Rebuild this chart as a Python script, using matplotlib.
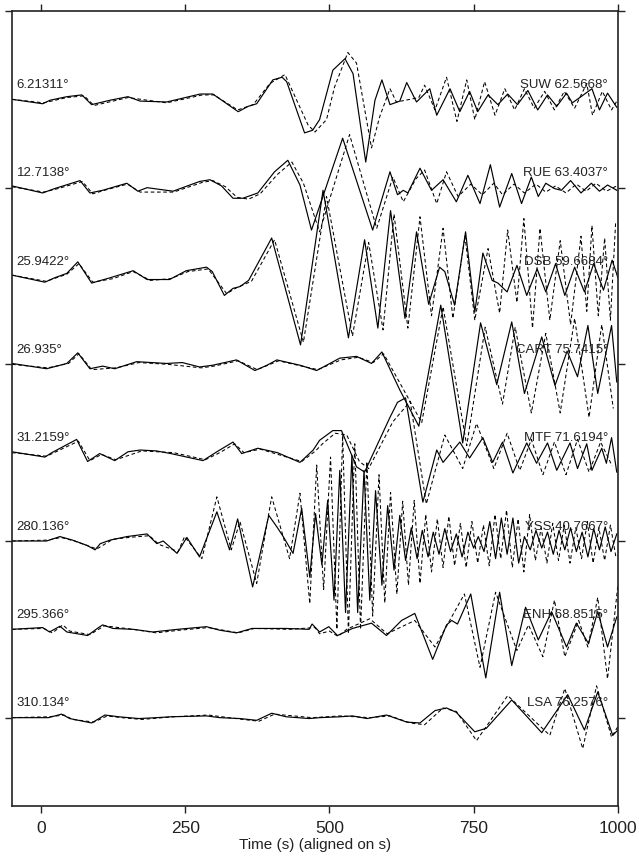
import numpy as np
import matplotlib
matplotlib.use('Agg')
import matplotlib.pyplot as plt

# Station labels (left: back-azimuth, right: station + distance)
LEFT_LABELS = ['6.21311°', '12.7138°', '25.9422°', '26.935°',
               '31.2159°', '280.136°', '295.366°', '310.134°']
RIGHT_LABELS = ['SUW 62.5668°', 'RUE 63.4037°', 'DSB 59.6684°', 'CART 75.7415°',
                'MTF 71.6194°', 'YSS 40.7667°', 'ENH 68.8515°', 'LSA 76.2576°']

# (time s, amplitude in trace spacings); obs = solid, syn = dashed
SUW_OBS = [(-50, 0.00), (3, -0.05), (16, -0.01), (45, 0.03), (71, 0.05), (88, -0.06), (120, -0.01),
           (151, 0.03), (172, -0.02), (218, -0.03), (276, 0.06), (298, 0.06), (342, -0.14), (359, -0.08),
           (374, -0.05), (402, 0.22), (418, 0.25), (426, 0.20), (457, -0.38), (471, -0.35), (483, -0.23),
           (506, 0.33), (527, 0.46), (541, 0.29), (563, -0.71), (579, -0.01), (591, 0.22), (605, -0.06),
           (622, -0.02), (634, 0.19), (651, -0.03), (674, 0.12), (686, -0.18), (709, 0.12), (726, -0.14),
           (743, 0.09), (757, -0.14), (775, 0.05), (792, -0.06), (809, 0.06), (826, -0.06), (844, 0.10),
           (861, -0.12), (878, 0.05), (894, -0.08), (911, 0.07), (921, -0.04), (936, 0.03), (955, 0.12),
           (968, -0.12), (982, 0.07), (998, -0.09)]
SUW_SYN = [(-50, 0.00), (5, -0.04), (45, 0.02), (75, 0.04), (92, -0.07), (125, -0.02), (151, 0.02),
           (218, -0.04), (280, 0.05), (300, 0.05), (341, -0.12), (368, -0.06), (397, 0.18), (423, 0.28),
           (463, -0.29), (475, -0.37), (495, -0.23), (509, 0.14), (532, 0.53), (547, 0.41), (573, -0.55),
           (587, -0.20), (605, 0.12), (616, -0.03), (640, 0.00), (655, 0.02), (665, 0.16), (683, -0.12),
           (703, 0.25), (721, -0.25), (738, 0.22), (752, -0.23), (769, 0.20), (787, -0.18), (804, 0.12),
           (821, -0.12), (838, 0.12), (855, -0.10), (873, 0.09), (890, -0.12), (907, 0.09), (925, -0.10),
           (946, 0.18), (956, -0.18), (973, 0.09), (989, -0.12), (1000, 0.00)]

RUE_OBS = [(-50, 0.02), (3, -0.06), (24, -0.01), (68, 0.08), (85, -0.06), (107, -0.03), (149, 0.05),
           (168, -0.04), (184, 0.00), (229, -0.04), (275, 0.07), (293, 0.09), (313, 0.02), (333, -0.12),
           (350, -0.12), (376, -0.06), (405, 0.18), (428, 0.31), (449, 0.03), (469, -0.48), (523, 0.56),
           (575, -0.48), (605, 0.18), (618, -0.08), (628, -0.03), (636, -0.06), (657, 0.22), (677, -0.03),
           (697, 0.09), (720, -0.16), (740, 0.14), (761, -0.18), (779, 0.26), (795, -0.22), (816, 0.16),
           (833, -0.18), (850, 0.12), (862, -0.10), (875, 0.05), (890, -0.01), (902, -0.03), (918, 0.08),
           (936, -0.06), (954, 0.05), (968, -0.04), (982, 0.03), (998, -0.03)]
RUE_SYN = [(-50, 0.01), (5, -0.05), (30, -0.01), (72, 0.07), (90, -0.07), (110, -0.03), (150, 0.04),
           (172, -0.05), (230, -0.05), (280, 0.06), (298, 0.08), (320, 0.01), (340, -0.11), (360, -0.13),
           (380, -0.07), (410, 0.15), (435, 0.29), (455, 0.05), (483, -0.50), (535, 0.60), (582, -0.46),
           (610, 0.12), (628, -0.16), (650, 0.10), (665, 0.20), (686, -0.18), (703, 0.18), (723, -0.10),
           (745, 0.04), (765, -0.08), (785, 0.05), (800, -0.08), (820, 0.04), (838, -0.06), (858, 0.04),
           (875, -0.05), (892, 0.02), (910, -0.06), (928, 0.04), (945, -0.04), (962, 0.05), (980, -0.04),
           (998, 0.02)]

DSB_OBS = [(-50, 0.01), (7, -0.07), (24, -0.02), (45, 0.03), (64, 0.16), (88, -0.08), (120, -0.02),
           (160, 0.06), (184, -0.04), (223, -0.04), (252, 0.06), (287, 0.10), (297, 0.05), (318, -0.22),
           (333, -0.14), (345, -0.12), (360, -0.05), (400, 0.43), (450, -0.78), (489, 0.97), (533, -0.70),
           (561, 0.41), (584, -0.59), (606, 0.74), (631, -0.48), (651, 0.50), (672, -0.32), (691, 0.10),
           (700, 0.05), (717, -0.33), (736, 0.50), (752, -0.41), (766, 0.26), (782, -0.05), (792, -0.08),
           (808, -0.18), (825, 0.12), (842, -0.22), (860, 0.08), (875, -0.18), (892, 0.14), (908, -0.22),
           (925, 0.10), (942, -0.18), (958, 0.14), (975, -0.16), (990, 0.18), (1000, -0.02)]
DSB_SYN = [(-50, 0.01), (9, -0.06), (45, 0.02), (66, 0.14), (90, -0.07), (125, -0.03), (160, 0.05),
           (190, -0.05), (225, -0.03), (255, 0.05), (290, 0.08), (322, -0.20), (340, -0.13), (365, -0.06),
           (405, 0.41), (455, -0.75), (495, 0.90), (540, -0.68), (568, 0.38), (593, -0.61), (612, 0.70),
           (636, -0.59), (657, 0.67), (677, -0.45), (697, 0.54), (714, -0.48), (735, 0.45), (752, -0.50),
           (775, 0.31), (795, -0.42), (809, 0.52), (825, -0.30), (837, 0.65), (852, -0.59), (865, 0.54),
           (882, -0.50), (900, 0.40), (918, -0.55), (936, 0.45), (946, -0.40), (955, 0.57), (966, -0.45),
           (977, 0.43), (987, -0.50), (996, 0.60)]

CART_OBS = [(-50, 0.01), (10, -0.05), (45, 0.01), (64, 0.13), (85, -0.05), (107, -0.02), (128, -0.05),
            (166, 0.03), (218, 0.01), (245, 0.02), (275, -0.03), (298, -0.01), (339, 0.05), (371, -0.07),
            (392, -0.01), (409, 0.05), (449, -0.01), (478, -0.07), (518, 0.07), (547, 0.09), (573, 0.01),
            (591, 0.14), (622, -0.29), (655, -0.70), (693, 0.67), (731, -0.89), (762, 0.47), (790, -0.23),
            (816, 0.48), (838, -0.33), (868, 0.31), (891, -0.24), (912, 0.15), (930, -0.14), (948, 0.44),
            (965, -0.33), (989, 0.44), (998, -0.20)]
CART_SYN = [(-50, 0.00), (12, -0.04), (48, 0.01), (66, 0.12), (88, -0.06), (130, -0.04), (170, 0.02),
            (220, 0.00), (278, -0.04), (300, -0.02), (342, 0.04), (375, -0.06), (412, 0.04), (452, -0.02),
            (480, -0.06), (520, 0.05), (550, 0.08), (576, 0.02), (594, 0.12), (628, -0.28), (660, -0.66),
            (697, 0.65), (738, -0.92), (770, 0.42), (800, -0.45), (822, 0.42), (850, -0.55), (875, 0.35),
            (900, -0.55), (925, 0.52), (950, -0.60), (972, 0.45), (992, -0.50)]

MTF_OBS = [(-50, 0.01), (7, -0.05), (19, 0.00), (62, 0.15), (81, -0.10), (102, -0.01), (128, -0.09),
           (151, 0.01), (172, 0.03), (200, 0.02), (225, -0.01), (281, -0.09), (305, 0.01), (333, 0.12),
           (348, -0.01), (376, 0.05), (410, 0.00), (449, -0.11), (472, 0.03), (483, 0.14), (506, 0.25),
           (521, 0.25), (547, -0.16), (561, -0.22), (605, 0.40), (618, 0.57), (632, 0.62), (662, -0.56),
           (686, 0.03), (697, -0.11), (726, 0.12), (743, -0.06), (766, 0.17), (783, -0.11), (800, 0.12),
           (818, -0.23), (842, 0.11), (859, -0.12), (878, 0.11), (894, -0.20), (917, 0.11), (930, -0.18),
           (946, 0.10), (955, -0.20), (972, 0.05), (980, -0.12), (989, 0.17), (998, -0.22)]
MTF_SYN = [(-50, 0.00), (10, -0.04), (65, 0.13), (85, -0.09), (105, -0.02), (130, -0.08), (175, 0.02),
           (230, 0.00), (285, -0.08), (310, 0.00), (336, 0.10), (352, 0.00), (380, 0.04), (452, -0.10),
           (476, 0.02), (488, 0.10), (510, 0.22), (530, 0.20), (552, -0.10), (568, -0.18), (610, 0.35),
           (640, 0.58), (668, -0.58), (700, 0.20), (731, -0.18), (755, 0.33), (785, -0.18), (808, 0.22),
           (830, -0.20), (850, 0.15), (870, -0.25), (890, 0.12), (910, -0.25), (930, 0.15), (950, -0.22),
           (970, 0.12), (990, -0.15)]

YSS_OBS = [(-50, 0.00), (10, 0.00), (33, 0.05), (55, 0.01), (80, -0.05), (94, -0.10), (103, -0.03),
           (120, 0.01), (149, 0.05), (184, 0.08), (201, -0.03), (212, 0.00), (236, -0.14), (253, 0.04),
           (275, -0.18), (305, 0.33), (327, -0.10), (341, 0.25), (367, -0.52), (395, 0.29), (410, 0.15),
           (420, 0.05), (437, -0.14), (452, 0.37), (466, -0.41), (476, 0.31), (487, -0.27), (497, 0.46),
           (508, -0.67), (518, 0.80), (528, -0.81), (539, 0.97), (549, -0.81), (560, 0.80), (570, -0.67),
           (580, 0.57), (591, -0.50), (601, 0.40), (612, -0.33), (622, 0.29), (632, -0.22), (642, 0.15),
           (652, -0.20), (661, 0.12), (671, -0.18), (680, 0.10), (690, -0.15), (700, 0.14), (710, -0.12),
           (720, 0.08), (730, -0.18), (740, 0.10), (750, -0.08), (758, 0.05), (768, -0.12), (778, 0.22),
           (788, -0.20), (798, 0.26), (808, -0.15), (818, 0.26), (828, -0.25), (838, 0.05), (848, -0.10),
           (858, 0.12), (868, -0.08), (878, 0.10), (888, -0.15), (898, 0.12), (908, -0.10), (918, 0.15),
           (928, -0.12), (938, 0.10), (948, -0.18), (958, 0.14), (968, -0.10), (978, 0.16), (988, -0.12),
           (998, 0.08)]
YSS_SYN = [(-50, 0.00), (12, 0.01), (35, 0.04), (58, 0.00), (84, -0.06), (97, -0.09), (125, 0.02),
           (152, 0.04), (188, 0.06), (205, -0.04), (238, -0.12), (249, 0.05), (279, -0.20), (305, 0.50),
           (330, -0.10), (345, 0.22), (374, -0.48), (400, 0.50), (431, -0.20), (449, 0.54), (466, -0.71),
           (478, 0.86), (490, -0.55), (502, 0.95), (513, -1.00), (523, 1.20), (533, -1.05), (544, 1.10),
           (554, -1.00), (565, 0.90), (575, -0.85), (586, 0.75), (596, -0.70), (606, 0.55), (617, -0.60),
           (627, 0.45), (637, -0.50), (647, 0.46), (657, -0.48), (667, 0.30), (677, -0.35), (687, 0.25),
           (697, -0.30), (707, 0.28), (717, -0.28), (727, 0.20), (737, -0.30), (747, 0.22), (757, -0.25),
           (767, 0.18), (777, -0.28), (787, 0.30), (797, -0.20), (807, 0.35), (817, -0.30), (827, 0.25),
           (837, -0.35), (847, 0.30), (857, -0.22), (867, 0.15), (877, -0.25), (887, 0.20), (897, -0.22),
           (907, 0.18), (917, -0.25), (927, 0.15), (937, -0.20), (947, 0.22), (957, -0.25), (967, 0.15),
           (977, -0.22), (987, 0.18), (997, -0.20)]

ENH_OBS = [(-50, 0.00), (3, 0.02), (15, -0.03), (33, 0.035), (45, -0.03), (81, -0.07), (100, 0.02),
           (107, 0.05), (125, 0.01), (160, 0.00), (194, -0.03), (237, 0.00), (287, 0.03), (310, -0.01),
           (339, -0.04), (366, 0.01), (425, 0.01), (465, 0.00), (470, 0.06), (483, -0.03), (499, 0.03),
           (514, -0.07), (540, 0.01), (573, 0.07), (599, -0.07), (625, 0.10), (648, 0.18), (679, -0.34),
           (703, 0.05), (712, 0.10), (722, 0.06), (745, 0.40), (771, -0.55), (795, 0.42), (816, -0.41),
           (840, 0.25), (862, -0.12), (885, 0.20), (911, -0.20), (928, 0.07), (949, -0.16), (965, 0.20),
           (982, -0.20), (998, 0.14)]
ENH_SYN = [(-50, 0.00), (5, 0.01), (20, -0.04), (38, 0.05), (50, -0.02), (85, -0.06), (110, 0.04),
           (160, 0.00), (200, -0.04), (240, -0.01), (290, 0.02), (342, -0.04), (370, 0.01), (430, 0.00),
           (475, 0.02), (483, -0.05), (500, -0.02), (515, -0.08), (530, 0.00), (570, 0.12), (600, -0.05),
           (648, 0.10), (683, -0.20), (700, 0.00), (734, 0.40), (761, -0.43), (788, 0.42), (825, -0.24),
           (845, 0.05), (870, -0.31), (890, 0.33), (908, -0.31), (932, 0.10), (948, -0.20), (965, 0.36),
           (982, -0.56), (1000, 0.50)]

LSA_OBS = [(-50, 0.00), (13, 0.00), (36, 0.04), (50, -0.01), (88, -0.06), (111, 0.03), (135, 0.01),
           (170, -0.01), (200, 0.00), (225, 0.01), (287, 0.02), (310, 0.00), (345, -0.01), (374, -0.03),
           (400, 0.05), (425, 0.01), (465, -0.01), (483, 0.00), (518, 0.01), (540, 0.02), (565, -0.01),
           (599, 0.03), (634, -0.05), (657, -0.06), (683, 0.08), (703, 0.11), (720, 0.06), (752, -0.16),
           (772, -0.12), (816, 0.20), (868, -0.17), (913, 0.26), (942, -0.14), (965, 0.29), (991, -0.20),
           (1000, -0.14)]
LSA_SYN = [(-50, 0.00), (15, 0.01), (40, 0.03), (55, -0.02), (92, -0.05), (115, 0.02), (140, 0.00),
           (175, -0.02), (230, 0.01), (290, 0.03), (350, -0.02), (378, -0.04), (405, 0.04), (470, 0.00),
           (520, 0.02), (570, 0.00), (605, 0.02), (640, -0.06), (665, -0.08), (697, 0.11), (720, 0.07),
           (755, -0.26), (809, 0.25), (882, -0.20), (908, 0.33), (939, -0.35), (963, 0.36), (989, -0.22),
           (1000, -0.10)]

OBSERVED = [SUW_OBS, RUE_OBS, DSB_OBS, CART_OBS, MTF_OBS, YSS_OBS, ENH_OBS, LSA_OBS]
SYNTHETIC = [SUW_SYN, RUE_SYN, DSB_SYN, CART_SYN, MTF_SYN, YSS_SYN, ENH_SYN, LSA_SYN]

plt.rcParams['font.family'] = ['Liberation Sans', 'DejaVu Sans']
TEXT_COLOR = '#222222'

fig = plt.figure(figsize=(6.39, 8.59), dpi=100)
ax = fig.add_axes([0.0188, 0.0617, 0.9482, 0.9255])

for i, (obs, syn) in enumerate(zip(OBSERVED, SYNTHETIC), start=1):
    t, a = np.array(obs).T
    ax.plot(t, i - a, color='black', lw=0.85, solid_joinstyle='round')
    t, a = np.array(syn).T
    ax.plot(t, i - a, color='black', lw=0.75, linestyle=(0, (3.5, 2.5)))
    ax.text(-42, i - 0.13, LEFT_LABELS[i - 1], fontsize=9.5, color=TEXT_COLOR,
            ha='left', va='baseline')
    ax.text(983, i - 0.13, RIGHT_LABELS[i - 1], fontsize=9.5, color=TEXT_COLOR,
            ha='right', va='baseline')

ax.set_xlim(-50, 1000)
ax.set_ylim(9, 0)
ax.set_xticks([0, 250, 500, 750, 1000])
ax.set_yticks([0, 2, 4, 6, 8])
ax.tick_params(axis='both', direction='out', length=5, width=1, top=True, right=True,
               labelsize=12.5, colors=TEXT_COLOR, pad=6)
ax.tick_params(axis='y', labelleft=False, labelright=False)
ax.set_xlabel('Time (s) (aligned on s)', fontsize=11, color=TEXT_COLOR, labelpad=1)
for s in ax.spines.values():
    s.set_linewidth(1.2)
    s.set_color(TEXT_COLOR)

fig.savefig('out.png', dpi=100)
